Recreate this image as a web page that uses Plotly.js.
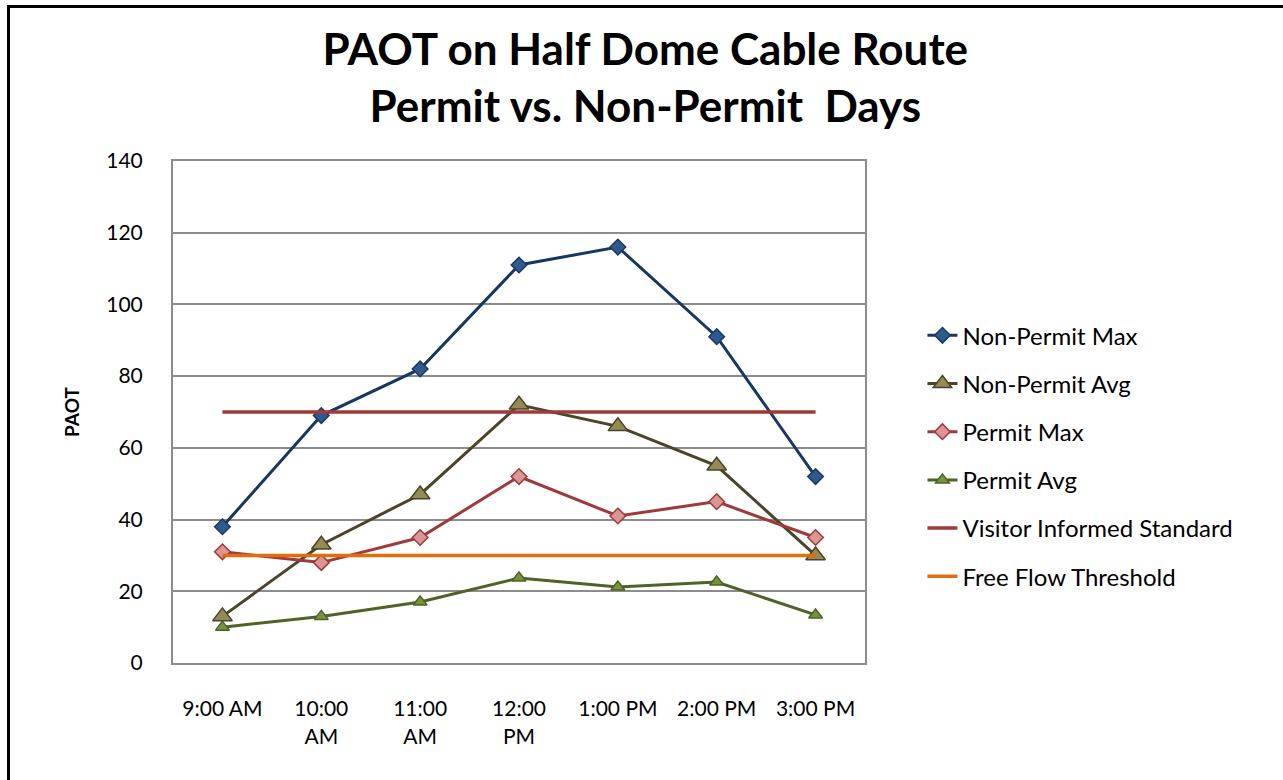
<!DOCTYPE html>
<html>
<head>
<meta charset="utf-8">
<script src="https://cdn.plot.ly/plotly-3.0.1.min.js"></script>
<style>
  body { margin: 0; background: #fff; }
  #frame { position: absolute; left: 7px; top: 5px; width: 1290px; height: 790px;
           border-left: 3px solid #000; border-top: 3px solid #000; }
  #chart { position: absolute; left: 0; top: 0; width: 1283px; height: 780px; }
</style>
</head>
<body>
<div id="chart"></div>
<div id="frame"></div>
<script>
// time slots on the x axis
var times = ["9:00 AM", "10:00<br>AM", "11:00<br>AM", "12:00<br>PM", "1:00 PM", "2:00 PM", "3:00 PM"];

// PAOT values
var nonPermitMax = [38, 69, 82, 111, 116, 91, 52];
var nonPermitAvg = [13, 33, 47, 72, 66, 55, 30];
var permitMax = [31, 28, 35, 52, 41, 45, 35];
var permitAvg = [10, 13, 17, 23.7, 21.2, 22.6, 13.4];
var visitorStandard = [70, 70, 70, 70, 70, 70, 70];
var freeFlow = [30, 30, 30, 30, 30, 30, 30];

var font = "Lato, 'Open Sans', sans-serif";

var data = [
  {
    x: times, y: nonPermitMax, name: "Non-Permit Max", legendgroup: "a",
    type: "scatter", mode: "lines+markers",
    line: { color: "#17375E", width: 3 },
    marker: { symbol: "diamond", size: 12, color: "#2E5A8E", line: { color: "#1F3864", width: 1.5 } }
  },
  {
    x: times, y: nonPermitAvg, name: "Non-Permit Avg", legendgroup: "b",
    type: "scatter", mode: "lines+markers",
    line: { color: "#4A452A", width: 3 },
    marker: { symbol: "triangle-up", size: 17, color: "#948A54", line: { color: "#4A452A", width: 1.5 } }
  },
  {
    x: times, y: permitMax, name: "Permit Max", legendgroup: "c",
    type: "scatter", mode: "lines+markers",
    line: { color: "#A0393A", width: 3 },
    marker: { symbol: "diamond", size: 12, color: "#D99694", line: { color: "#A0393A", width: 1.5 } }
  },
  {
    x: times, y: permitAvg, name: "Permit Avg", legendgroup: "d",
    type: "scatter", mode: "lines+markers",
    line: { color: "#4F6228", width: 3 },
    marker: { symbol: "triangle-up", size: 12, color: "#77933C", line: { color: "#4F6228", width: 1.5 } }
  },
  {
    x: times, y: visitorStandard, name: "Visitor Informed Standard", legendgroup: "e",
    type: "scatter", mode: "lines",
    line: { color: "#A0393A", width: 3.5 }
  },
  {
    x: times, y: freeFlow, name: "Free Flow Threshold", legendgroup: "f",
    type: "scatter", mode: "lines",
    line: { color: "#E46C0A", width: 3.5 }
  }
];

var layout = {
  width: 1283,
  height: 780,
  margin: { l: 173, r: 418, t: 161, b: 117 },
  paper_bgcolor: "#fff",
  plot_bgcolor: "#fff",
  font: { family: font, size: 21, color: "#000" },
  title: {
    text: "<b>PAOT on Half Dome Cable Route<br>Permit vs. Non-Permit  Days</b>",
    font: { family: font, size: 44, color: "#000" },
    x: 0.503, xanchor: "center",
    y: 0.917, yanchor: "top"
  },
  xaxis: {
    type: "category",
    range: [-0.5, 6.5],
    showgrid: false,
    showline: true, mirror: true,
    linecolor: "#8c8c8c", linewidth: 2,
    ticks: "", ticklabelstandoff: 26,
    tickfont: { family: font, size: 21, color: "#000" }
  },
  yaxis: {
    range: [0, 140],
    dtick: 20,
    showgrid: true, gridcolor: "#8c8c8c", gridwidth: 2,
    zeroline: false,
    showline: true, mirror: true,
    linecolor: "#8c8c8c", linewidth: 2,
    ticks: "", ticklabelstandoff: 24,
    tickfont: { family: font, size: 21, color: "#000" },
    title: { text: "<b>PAOT</b>", font: { family: font, size: 19, color: "#000" }, standoff: 22 }
  },
  showlegend: true,
  legend: {
    x: 1.083, xanchor: "left",
    y: 0.412, yanchor: "middle",
    font: { family: font, size: 24, color: "#000" },
    tracegroupgap: 14,
    bgcolor: "rgba(0,0,0,0)"
  }
};

Plotly.newPlot("chart", data, layout, { displayModeBar: false, staticPlot: true });
</script>
</body>
</html>
